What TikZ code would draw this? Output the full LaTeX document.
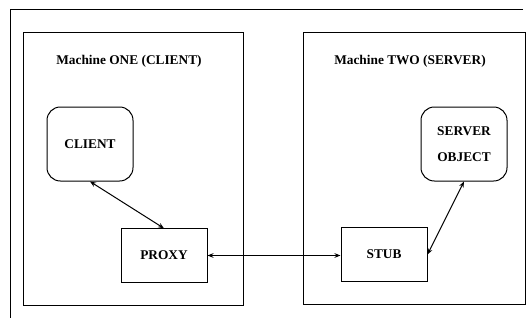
\documentclass[tikz,border=0pt]{standalone}
\usepackage{fontspec}
\setmainfont{Liberation Serif}
\usetikzlibrary{arrows.meta}
\begin{document}
\begin{tikzpicture}[x=0.75pt,y=-0.75pt,
  rule/.style={line width=0.75pt},
  machine/.style={draw,rule,anchor=north west,inner sep=0pt},
  roundbox/.style={draw,rule,rounded corners=10pt,align=center,font=\bfseries\normalsize,inner sep=0pt,minimum width=64.5pt,minimum height=55.5pt},
  plainbox/.style={draw,rule,font=\bfseries\normalsize,inner sep=0pt,minimum width=64.5pt,minimum height=40pt},
  title/.style={font=\bfseries\normalsize},
  link/.style={rule,{Stealth[length=4.5pt,width=3.5pt]}-{Stealth[length=4.5pt,width=3.5pt]}}]
\useasboundingbox (0,0) rectangle (528,328);
% partial outer frame
\coordinate (frameTL) at (10,10);
\coordinate (frameTR) at (523,10);
\coordinate (frameBL) at (10,318);
\draw[rule] (frameTR) -- (frameTL) -- (frameBL);
% the two machines
\node[machine,minimum width=165pt,minimum height=204.75pt] (m1) at (23,32) {};
\node[machine,minimum width=166.5pt,minimum height=204pt] (m2) at (303,32) {};
\node[title] (t1) at (129,61) {Machine ONE (CLIENT)};
\node[title] (t2) at (410,61) {Machine TWO (SERVER)};
% components
\node[roundbox] (client) at (90,144) {CLIENT};
\node[roundbox] (server) at (464,144) {SERVER\\[7pt]OBJECT};
\node[plainbox] (proxy) at (164,255.5) {PROXY};
\node[plainbox] (stub) at (384,254.5) {STUB};
% connectors
\draw[link] (client.south) -- (proxy.north);
\draw[link] (proxy.east) -- (stub.west |- proxy.east);
\draw[link] (stub.east) -- (server.south);
\end{tikzpicture}
\end{document}
